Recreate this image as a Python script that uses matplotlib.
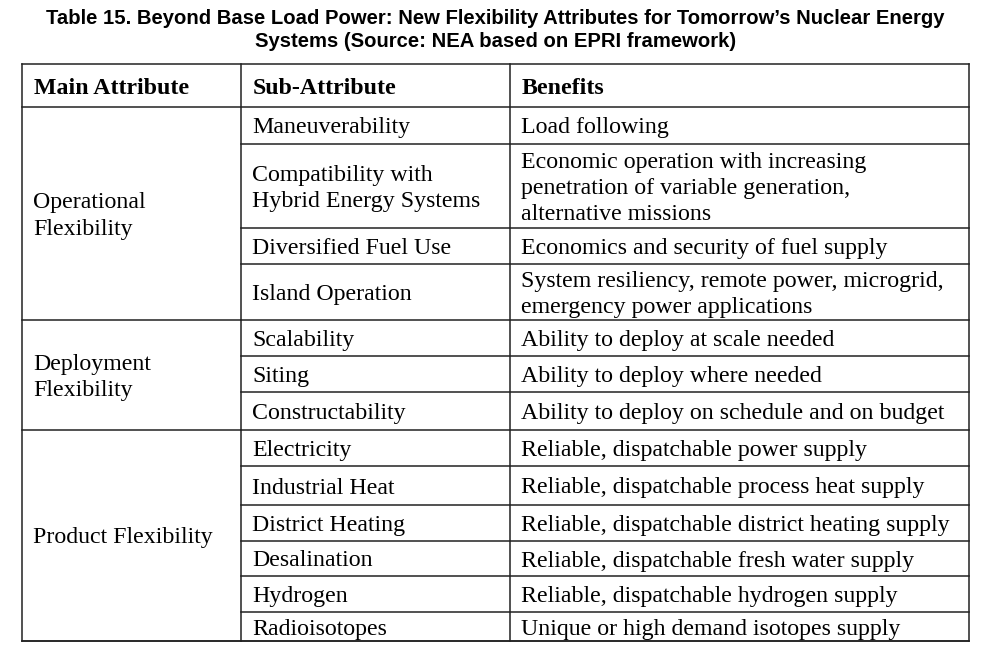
import matplotlib.pyplot as plt

# table content
title = ("Table 15. Beyond Base Load Power: New Flexibility Attributes for Tomorrow\u2019s Nuclear Energy\n"
         "Systems (Source: NEA based on EPRI framework)")
headers = ["Main Attribute", "Sub-Attribute", "Benefits"]
main_attrs = ["Operational\nFlexibility", "Deployment\nFlexibility", "Product Flexibility"]
main_span = [4, 3, 6]  # number of sub rows per main attribute
sub_attrs = ["Maneuverability", "Compatibility with\nHybrid Energy Systems", "Diversified Fuel Use",
             "Island Operation", "Scalability", "Siting", "Constructability", "Electricity",
             "Industrial Heat", "District Heating", "Desalination", "Hydrogen", "Radioisotopes"]
benefits = ["Load following",
            "Economic operation with increasing\npenetration of variable generation,\nalternative missions",
            "Economics and security of fuel supply",
            "System resiliency, remote power, microgrid,\nemergency power applications",
            "Ability to deploy at scale needed",
            "Ability to deploy where needed",
            "Ability to deploy on schedule and on budget",
            "Reliable, dispatchable power supply",
            "Reliable, dispatchable process heat supply",
            "Reliable, dispatchable district heating supply",
            "Reliable, dispatchable fresh water supply",
            "Reliable, dispatchable hydrogen supply",
            "Unique or high demand isotopes supply"]

# layout (pixel coords of the grid)
col_x = [22, 241, 510, 969]
row_y = [64, 107, 144, 228, 264, 320, 356, 392, 430, 466, 505, 541, 576, 612, 641]

W, H = 991, 658
fig = plt.figure(figsize=(W / 100, H / 100), dpi=100)
ax = fig.add_axes([0, 0, 1, 1])
ax.set_xlim(0, W)
ax.set_ylim(H, 0)
ax.axis('off')

serif = 'Liberation Serif'
fs = 17.2
lc = '#222222'
lw = 1.1
ls = 1.33


def cell_text(x, y, s, **kw):
    # single lines centred on the glyph body, multi-line on the whole block
    if '\n' in s:
        ax.text(x, y + 2.5, s, ha='left', va='center', fontsize=fs, family=serif,
                linespacing=ls, **kw)
    else:
        ax.text(x, y, s, ha='left', va='center_baseline', fontsize=fs, family=serif, **kw)


ax.text(W / 2, 30, title, ha='center', va='center', fontsize=14.6, fontweight='bold',
        family='Liberation Sans', linespacing=1.25)

# outer and vertical lines
for x in col_x:
    ax.plot([x, x], [row_y[0], row_y[-1]], color=lc, lw=lw, solid_capstyle='projecting')
ax.plot([col_x[0], col_x[-1]], [row_y[0], row_y[0]], color=lc, lw=lw)
ax.plot([col_x[0], col_x[-1]], [row_y[-1], row_y[-1]], color=lc, lw=lw)
ax.plot([col_x[0], col_x[-1]], [row_y[1], row_y[1]], color=lc, lw=lw)

# headers
for i, h in enumerate(headers):
    cell_text(col_x[i] + 12, (row_y[0] + row_y[1]) / 2 + 1, h, fontweight='bold')

# sub rows
for j, (s, b) in enumerate(zip(sub_attrs, benefits)):
    y0, y1 = row_y[j + 1], row_y[j + 2]
    yc = (y0 + y1) / 2
    cell_text(col_x[1] + 11, yc, s)
    cell_text(col_x[2] + 11, yc, b)
    ax.plot([col_x[1], col_x[-1]], [y1, y1], color=lc, lw=lw)

# main attributes
start = 0
for m, n in zip(main_attrs, main_span):
    y0, y1 = row_y[start + 1], row_y[start + 1 + n]
    cell_text(col_x[0] + 11, (y0 + y1) / 2, m)
    ax.plot([col_x[0], col_x[1]], [y1, y1], color=lc, lw=lw)
    start += n

fig.savefig('out.png', dpi=100)
